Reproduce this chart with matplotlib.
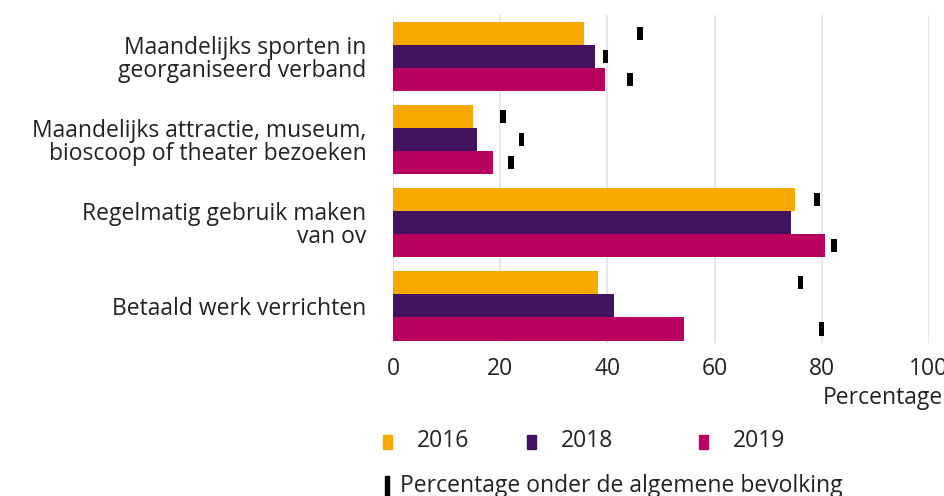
import matplotlib
matplotlib.use("Agg")
from matplotlib import pyplot as plt
from matplotlib.patches import Rectangle
import numpy as np

plt.rcParams['font.family'] = ['Open Sans', 'DejaVu Sans']

categories = [
    "Maandelijks sporten in\ngeorganiseerd verband",
    "Maandelijks attractie, museum,\nbioscoop of theater bezoeken",
    "Regelmatig gebruik maken\nvan ov",
    "Betaald werk verrichten",
]
years = ["2016", "2018", "2019"]
values_2016 = [35.6, 15.0, 75.0, 38.3]
values_2018 = [37.6, 15.6, 74.2, 41.2]
values_2019 = [39.5, 18.7, 80.6, 54.3]
# reference level in the general population (None = not shown)
general_2016 = [46.1, 20.5, 79.1, 76.0]
general_2018 = [39.7, 24.0, None, None]
general_2019 = [44.2, 22.0, 82.3, 79.9]

colors = ["#F7A900", "#42145F", "#B8005F"]
W, H = 945, 496
FS = 16.5


def px(x, y):
    """pixel position (from top left) to figure fraction"""
    return x / W, 1 - y / H


def main():
    fig = plt.figure(figsize=(W / 100, H / 100), dpi=100)
    ax = fig.add_axes([393 / W, 1 - 343 / H, 536 / W, 328 / H])

    series = [values_2016, values_2018, values_2019]
    general = [general_2016, general_2018, general_2019]
    y = np.arange(len(categories))
    bar_h = 0.28
    offsets = [-bar_h, 0, bar_h]

    for vals, ref, col, off in zip(series, general, colors, offsets):
        ax.barh(y + off, vals, height=bar_h, color=col, zorder=2)
        for yi, r in zip(y, ref):
            if r is None:
                continue
            ax.barh(yi + off, 1.0, left=r - 0.5, height=0.16,
                    color="black", zorder=3)

    ax.set_xlim(0, 100)
    ax.set_ylim(3.45, -0.5)
    ax.set_xticks([0, 20, 40, 60, 80, 100])
    ax.set_yticks(y)
    ax.set_yticklabels(categories, fontsize=FS, color="#222222",
                       linespacing=0.95)
    ax.tick_params(axis="y", length=0, pad=19)
    ax.tick_params(axis="x", length=0, pad=10, labelsize=FS,
                   labelcolor="#222222")
    ax.grid(axis="x", color="#e3e3e3", linewidth=1.2, zorder=0)
    for s in ax.spines.values():
        s.set_visible(False)

    fig.text(*px(943, 398), "Percentage", ha="right", va="center",
             fontsize=FS, color="#222222")

    # legend
    legend_x = [(383, 417), (527, 561), (699, 733)]
    for (bx, tx), col, yr in zip(legend_x, colors, years):
        fig.patches.append(Rectangle(px(bx, 449), 9 / W, 14 / H,
                                     transform=fig.transFigure,
                                     color=col))
        fig.text(*px(tx, 441), yr, ha="left", va="center",
                 fontsize=FS, color="#222222")
    fig.patches.append(Rectangle(px(385, 496), 4 / W, 20 / H,
                                 transform=fig.transFigure,
                                 color="black"))
    fig.text(*px(400, 486), "Percentage onder de algemene bevolking",
             ha="left", va="center", fontsize=FS, color="#222222")

    fig.savefig("out.png", dpi=100)


if __name__ == '__main__':
    main()
